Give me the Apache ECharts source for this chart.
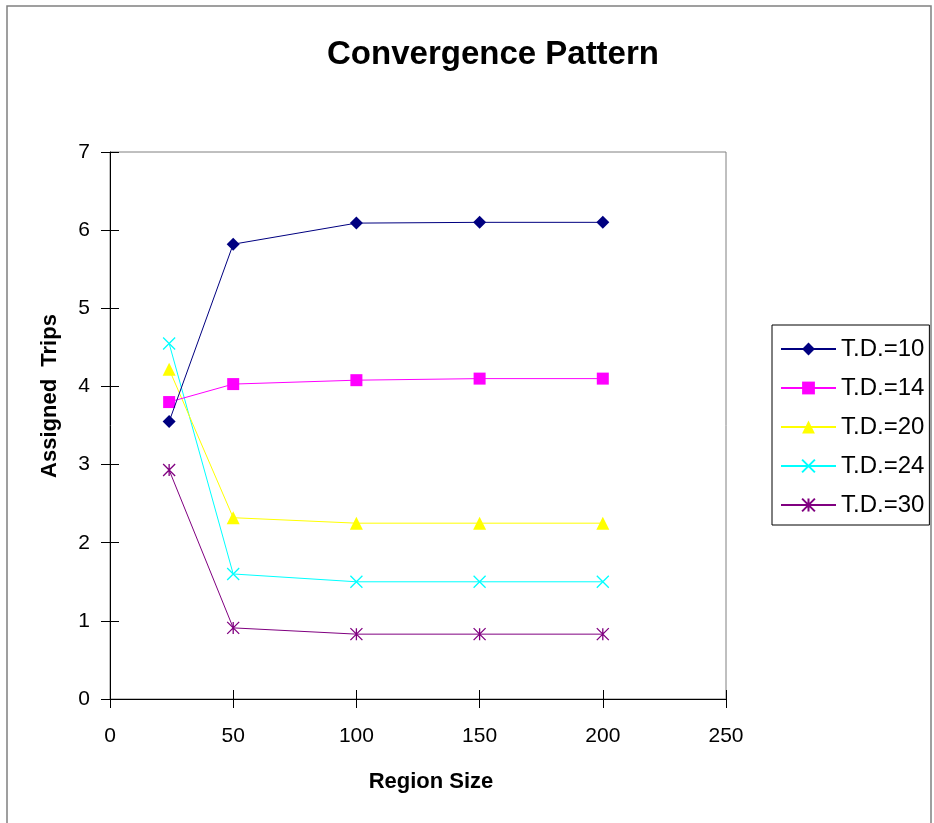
<!DOCTYPE html>
<html>
<head>
<meta charset="utf-8">
<script src="https://cdn.jsdelivr.net/npm/echarts@6/dist/echarts.min.js"></script>
<style>
html,body{margin:0;padding:0;background:#fff;}
#chart{width:934px;height:823px;}
</style>
</head>
<body>
<div id="chart"></div>
<script>
var regionSizes = [24, 50, 100, 150, 200];
var td10 = [3.55, 5.82, 6.09, 6.1, 6.1];
var td14 = [3.8, 4.03, 4.08, 4.1, 4.1];
var td20 = [4.22, 2.32, 2.25, 2.25, 2.25];
var td24 = [4.55, 1.6, 1.5, 1.5, 1.5];
var td30 = [2.93, 0.91, 0.83, 0.83, 0.83];
var seriesNames = ['T.D.=10', 'T.D.=14', 'T.D.=20', 'T.D.=24', 'T.D.=30'];
var xTicks = [0, 50, 100, 150, 200, 250];
var yTicks = [0, 1, 2, 3, 4, 5, 6, 7];

var FONT = 'Liberation Sans, Arial, sans-serif';
var xPath = 'path://M0,0 L10,10 M10,0 L0,10';
var starPath = 'path://M0,0 L10,10 M10,0 L0,10 M5,0 L5,10';

function pairs(vals) {
  return regionSizes.map(function (x, i) { return [x, vals[i]]; });
}

var styles = [
  { color: '#000080', symbol: 'diamond', size: 13, stroke: false },
  { color: '#FF00FF', symbol: 'rect', size: 12, stroke: false },
  { color: '#FFFF00', symbol: 'triangle', size: 13, stroke: false },
  { color: '#00FFFF', symbol: xPath, size: 12, stroke: true },
  { color: '#800080', symbol: starPath, size: 12, stroke: true }
];
var data = [td10, td14, td20, td24, td30];

var series = data.map(function (vals, i) {
  var st = styles[i];
  return {
    name: seriesNames[i],
    type: 'line',
    data: pairs(vals),
    xAxisIndex: 0,
    yAxisIndex: 0,
    symbol: st.symbol,
    symbolSize: st.size,
    showAllSymbol: true,
    animation: false,
    lineStyle: { color: st.color, width: 1 },
    itemStyle: st.stroke
      ? { color: 'rgba(0,0,0,0)', borderColor: st.color, borderWidth: 1.3 }
      : { color: st.color, borderWidth: 0 },
    emphasis: { disabled: true },
    z: 10 - i
  };
});

var chart = echarts.init(document.getElementById('chart'), null, { renderer: 'canvas' });
chart.setOption({
  backgroundColor: '#ffffff',
  animation: false,
  title: {
    text: 'Convergence Pattern',
    left: 488,
    top: 33,
    textAlign: 'center',
    textStyle: { fontFamily: FONT, fontSize: 33, fontWeight: 'bold', color: '#000' }
  },
  grid: {
    left: 110, top: 152, right: 208, bottom: 124,
    show: true, borderColor: '#808080', borderWidth: 1, backgroundColor: 'transparent'
  },
  legend: {
    orient: 'vertical',
    left: 772,
    top: 325,
    padding: [12, 5, 8, 8],
    itemWidth: 55,
    itemHeight: 16,
    itemGap: 15,
    borderColor: '#000',
    borderWidth: 1,
    backgroundColor: '#fff',
    textStyle: { fontFamily: FONT, fontSize: 24, color: '#000' },
    data: seriesNames
  },
  xAxis: [
    {
      type: 'value', min: 0, max: 250, interval: 50,
      axisLine: { show: true, onZero: false, lineStyle: { color: '#000', width: 1 } },
      axisTick: { show: true, inside: false, length: 9, lineStyle: { color: '#000' } },
      axisLabel: { show: true, margin: 27, fontFamily: FONT, fontSize: 21, color: '#000',
        formatter: function (v) { return xTicks.indexOf(v) >= 0 ? String(v) : ''; } },
      splitLine: { show: false }
    },
    {
      type: 'value', min: 0, max: 250, interval: 50, position: 'top', offset: -547,
      axisLine: { show: false, onZero: false },
      axisTick: { show: true, inside: false, length: 9, lineStyle: { color: '#000' } },
      axisLabel: { show: false },
      splitLine: { show: false }
    }
  ],
  yAxis: [
    {
      type: 'value', min: 0, max: 7, interval: 1,
      axisLine: { show: true, onZero: false, lineStyle: { color: '#000', width: 1 } },
      axisTick: { show: true, inside: false, length: 9, lineStyle: { color: '#000' } },
      axisLabel: { show: true, margin: 20, fontFamily: FONT, fontSize: 21, color: '#000',
        formatter: function (v) { return yTicks.indexOf(v) >= 0 ? String(v) : ''; } },
      splitLine: { show: false }
    },
    {
      type: 'value', min: 0, max: 7, interval: 1, position: 'right', offset: -616,
      axisLine: { show: false, onZero: false },
      axisTick: { show: true, inside: false, length: 9, lineStyle: { color: '#000' } },
      axisLabel: { show: false },
      splitLine: { show: false }
    }
  ],
  graphic: [
    {
      type: 'rect', silent: true, z: -10,
      shape: { x: 7, y: 6, width: 924, height: 830 },
      style: { fill: 'none', stroke: '#808080', lineWidth: 1.5 }
    },
    {
      type: 'text', x: 431, y: 782, silent: true,
      style: { text: 'Region Size', fontFamily: FONT, fontSize: 22, fontWeight: 'bold',
        fill: '#000', align: 'center', verticalAlign: 'middle' }
    },
    {
      type: 'text', x: 50, y: 396, rotation: Math.PI / 2, silent: true,
      style: { text: 'Assigned  Trips', fontFamily: FONT, fontSize: 22, fontWeight: 'bold',
        fill: '#000', align: 'center', verticalAlign: 'middle' }
    }
  ],
  series: series
});
</script>
</body>
</html>
